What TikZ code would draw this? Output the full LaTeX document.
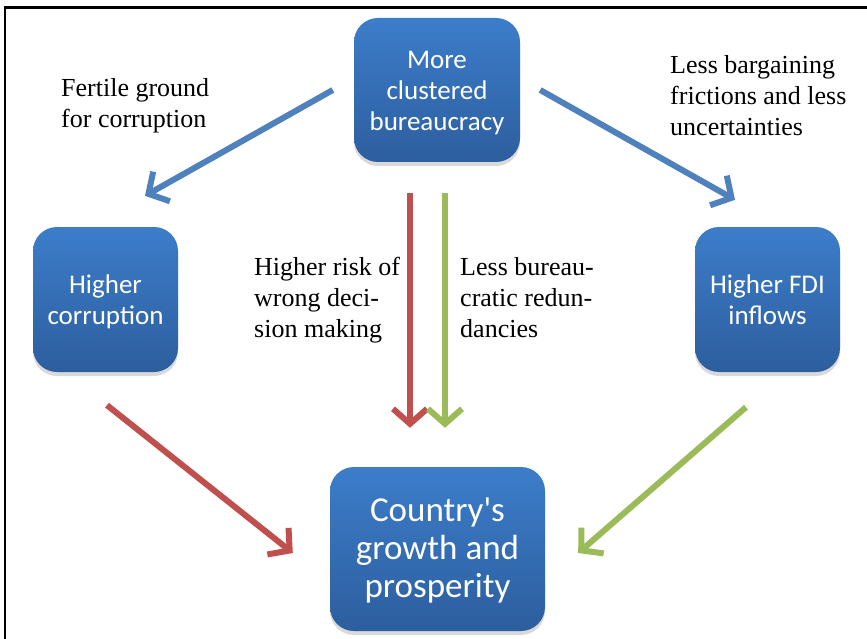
\documentclass[tikz,border=0pt]{standalone}
\usepackage{fontspec}
\setmainfont{Liberation Serif}
\newfontfamily\boxfont{Carlito}
\usetikzlibrary{arrows.meta,shadows,calc}
\definecolor{boxtop}{HTML}{3C7DCA}
\definecolor{boxbot}{HTML}{2D5E9E}
\definecolor{arrblue}{HTML}{4F81BD}
\definecolor{arrred}{HTML}{C0504D}
\definecolor{arrgreen}{HTML}{9BBB59}
\newcommand\lowtext[1]{\raisebox{-3pt}[\height][\depth]{\begin{tabular}{@{}c@{}}#1\end{tabular}}}
\tikzset{
  bluebox/.style={rounded corners=24pt, top color=boxtop, bottom color=boxbot,
    text=white, align=center, inner sep=0pt,
    drop shadow={shadow xshift=0pt, shadow yshift=-4pt, opacity=0.15, fill=black}},
  smallbox/.style={bluebox, minimum width=145pt, minimum height=145pt,
    font=\boxfont\fontsize{27}{31}\selectfont},
  lbl/.style={anchor=north west, align=left, inner sep=0pt,
    font=\fontsize{26}{31}\selectfont},
  conn/.style={line width=6pt, line cap=butt,
    -{Straight Barb[length=15pt,width=34pt,line join=miter]}},
}
\begin{document}
\begin{tikzpicture}[x=1pt,y=-1pt]
\useasboundingbox (0,0) rectangle (867,639);
\fill[white] (0,0) rectangle (867,639);
\draw[line width=2.5pt] (5,639) -- (5,7.5) -- (867,7.5);

\node[smallbox, minimum width=166pt, minimum height=144pt] (top) at (437,90)
  {\lowtext{More\\clustered\\bureaucracy}};
\node[smallbox] (left) at (105.5,299.5) {\lowtext{Higher\\corruption}};
\node[smallbox] (right) at (767.5,299.5) {\lowtext{Higher FDI\\inflows}};
\node[bluebox, minimum width=215pt, minimum height=164pt,
  font=\boxfont\fontsize{35}{38}\selectfont] (bottom) at (437.5,549)
  {\lowtext{Country's\\growth and\\prosperity}};

\node[lbl] (l1) at (61,78) {Fertile ground\\for corruption};
\node[lbl] (l2) at (670,55) {Less bargaining\\frictions and less\\uncertainties};
\node[lbl] (l3) at (254,257) {Higher risk of\\wrong deci-\\sion making};
\node[lbl] (l4) at (460,257) {Less bureau-\\cratic redun-\\dancies};

\draw[conn, arrblue] ($(top.west)+(-21,0)$) -- ($(left.north)+(39.5,-31)$);
\draw[conn, arrblue] ($(top.east)+(20,0)$) -- ($(right.north)+(-32.5,-27)$);
\draw[conn, arrred] ($(top.south)+(-27,31)$) -- ($(bottom.north)+(-27.5,-39)$);
\draw[conn, arrgreen] ($(top.south)+(8,31)$) -- ($(bottom.north)+(7.5,-39)$);
\draw[conn, arrred] ($(left.south)+(1.5,33)$) -- ($(bottom.west)+(-37,4)$);
\draw[conn, arrgreen] ($(right.south)+(-21.5,35)$) -- ($(bottom.east)+(33,4)$);
\end{tikzpicture}
\end{document}
